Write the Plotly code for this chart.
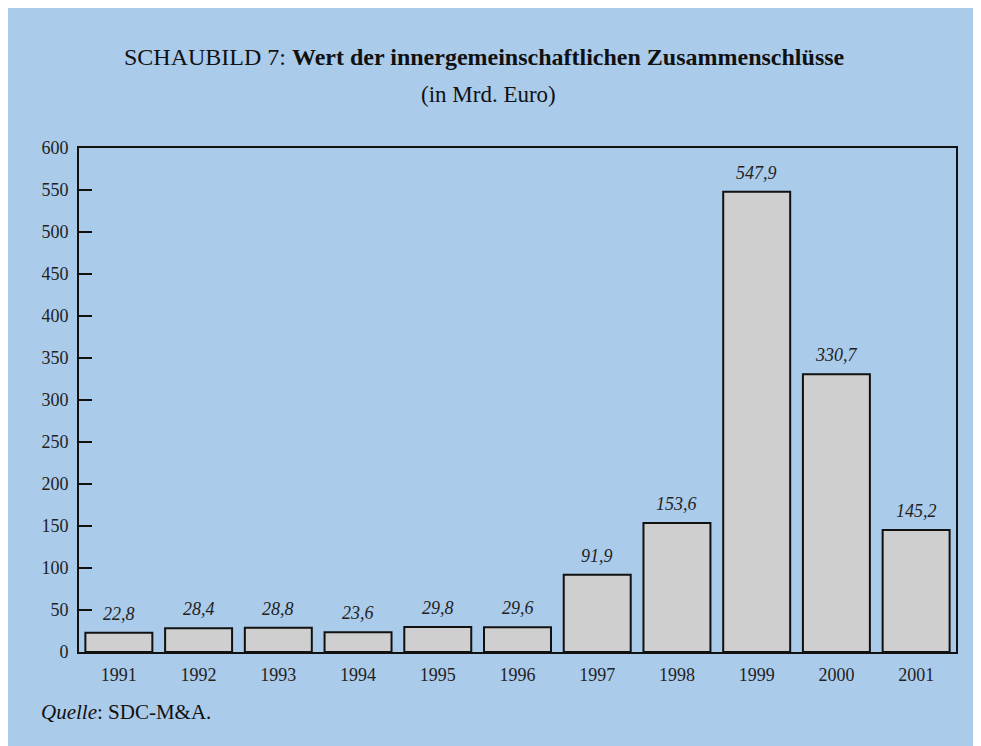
import plotly.graph_objects as go

years = ["1991", "1992", "1993", "1994", "1995", "1996", "1997", "1998", "1999", "2000", "2001"]
values = [22.8, 28.4, 28.8, 23.6, 29.8, 29.6, 91.9, 153.6, 547.9, 330.7, 145.2]
labels = ["22,8", "28,4", "28,8", "23,6", "29,8", "29,6", "91,9", "153,6", "547,9", "330,7", "145,2"]
yticks = [0, 50, 100, 150, 200, 250, 300, 350, 400, 450, 500, 550, 600]

BLUE = "#ABCBEB"
FONT = "Liberation Serif"

# page offset of the figure (browser body margin)
OFF = 8
L, R, T, B = 79 - OFF, 33, 148 - OFF, 102
W, H = 981, 746
pw, ph = W - L - R, H - T - B

def px_x(p):
    return (p - OFF - L) / pw

def px_y(p):
    return 1 - (p - OFF - T) / ph

fig = go.Figure()
fig.add_trace(go.Bar(
    x=years, y=values,
    marker=dict(color="#CFCFCF", line=dict(color="#111111", width=2)),
    showlegend=False,
))

for i, (v, t) in enumerate(zip(values, labels)):
    fig.add_annotation(x=i, y=v, text="<i>" + t + "</i>", showarrow=False,
                       yanchor="bottom", yshift=7,
                       font=dict(family=FONT, size=18, color="#222222"))

fig.add_annotation(xref="paper", yref="paper", x=px_x(484), y=px_y(57),
                   text="SCHAUBILD 7: <b>Wert der innergemeinschaftlichen Zusammenschlüsse</b>",
                   showarrow=False, xanchor="center", yanchor="middle",
                   font=dict(family=FONT, size=24, color="#111111"))
fig.add_annotation(xref="paper", yref="paper", x=px_x(488), y=px_y(95),
                   text="(in Mrd. Euro)",
                   showarrow=False, xanchor="center", yanchor="middle",
                   font=dict(family=FONT, size=23, color="#111111"))
fig.add_annotation(xref="paper", yref="paper", x=px_x(39), y=px_y(712),
                   text="<i>Quelle</i>: SDC-M&amp;A.",
                   showarrow=False, xanchor="left", yanchor="middle",
                   font=dict(family=FONT, size=21, color="#111111"))

fig.update_layout(
    width=W, height=H,
    margin=dict(l=L, r=R, t=T, b=B),
    paper_bgcolor=BLUE,
    plot_bgcolor=BLUE,
    bargap=0.16,
    font=dict(family=FONT, size=18, color="#222222"),
    xaxis=dict(type="category", showline=True, linecolor="#111111", linewidth=2, mirror=True,
               ticks="", ticklabelstandoff=5, showgrid=False,
               tickfont=dict(family=FONT, size=18, color="#222222")),
    yaxis=dict(range=[0, 600], tickvals=yticks, showline=True, linecolor="#111111",
               linewidth=2, mirror=True, ticks="inside", ticklen=13, tickwidth=2,
               tickcolor="#111111", showgrid=False, zeroline=False,
               ticklabelstandoff=5,
               tickfont=dict(family=FONT, size=18, color="#222222")),
)

fig.write_html("out.html", post_script="document.body.style.overflow='hidden';")
